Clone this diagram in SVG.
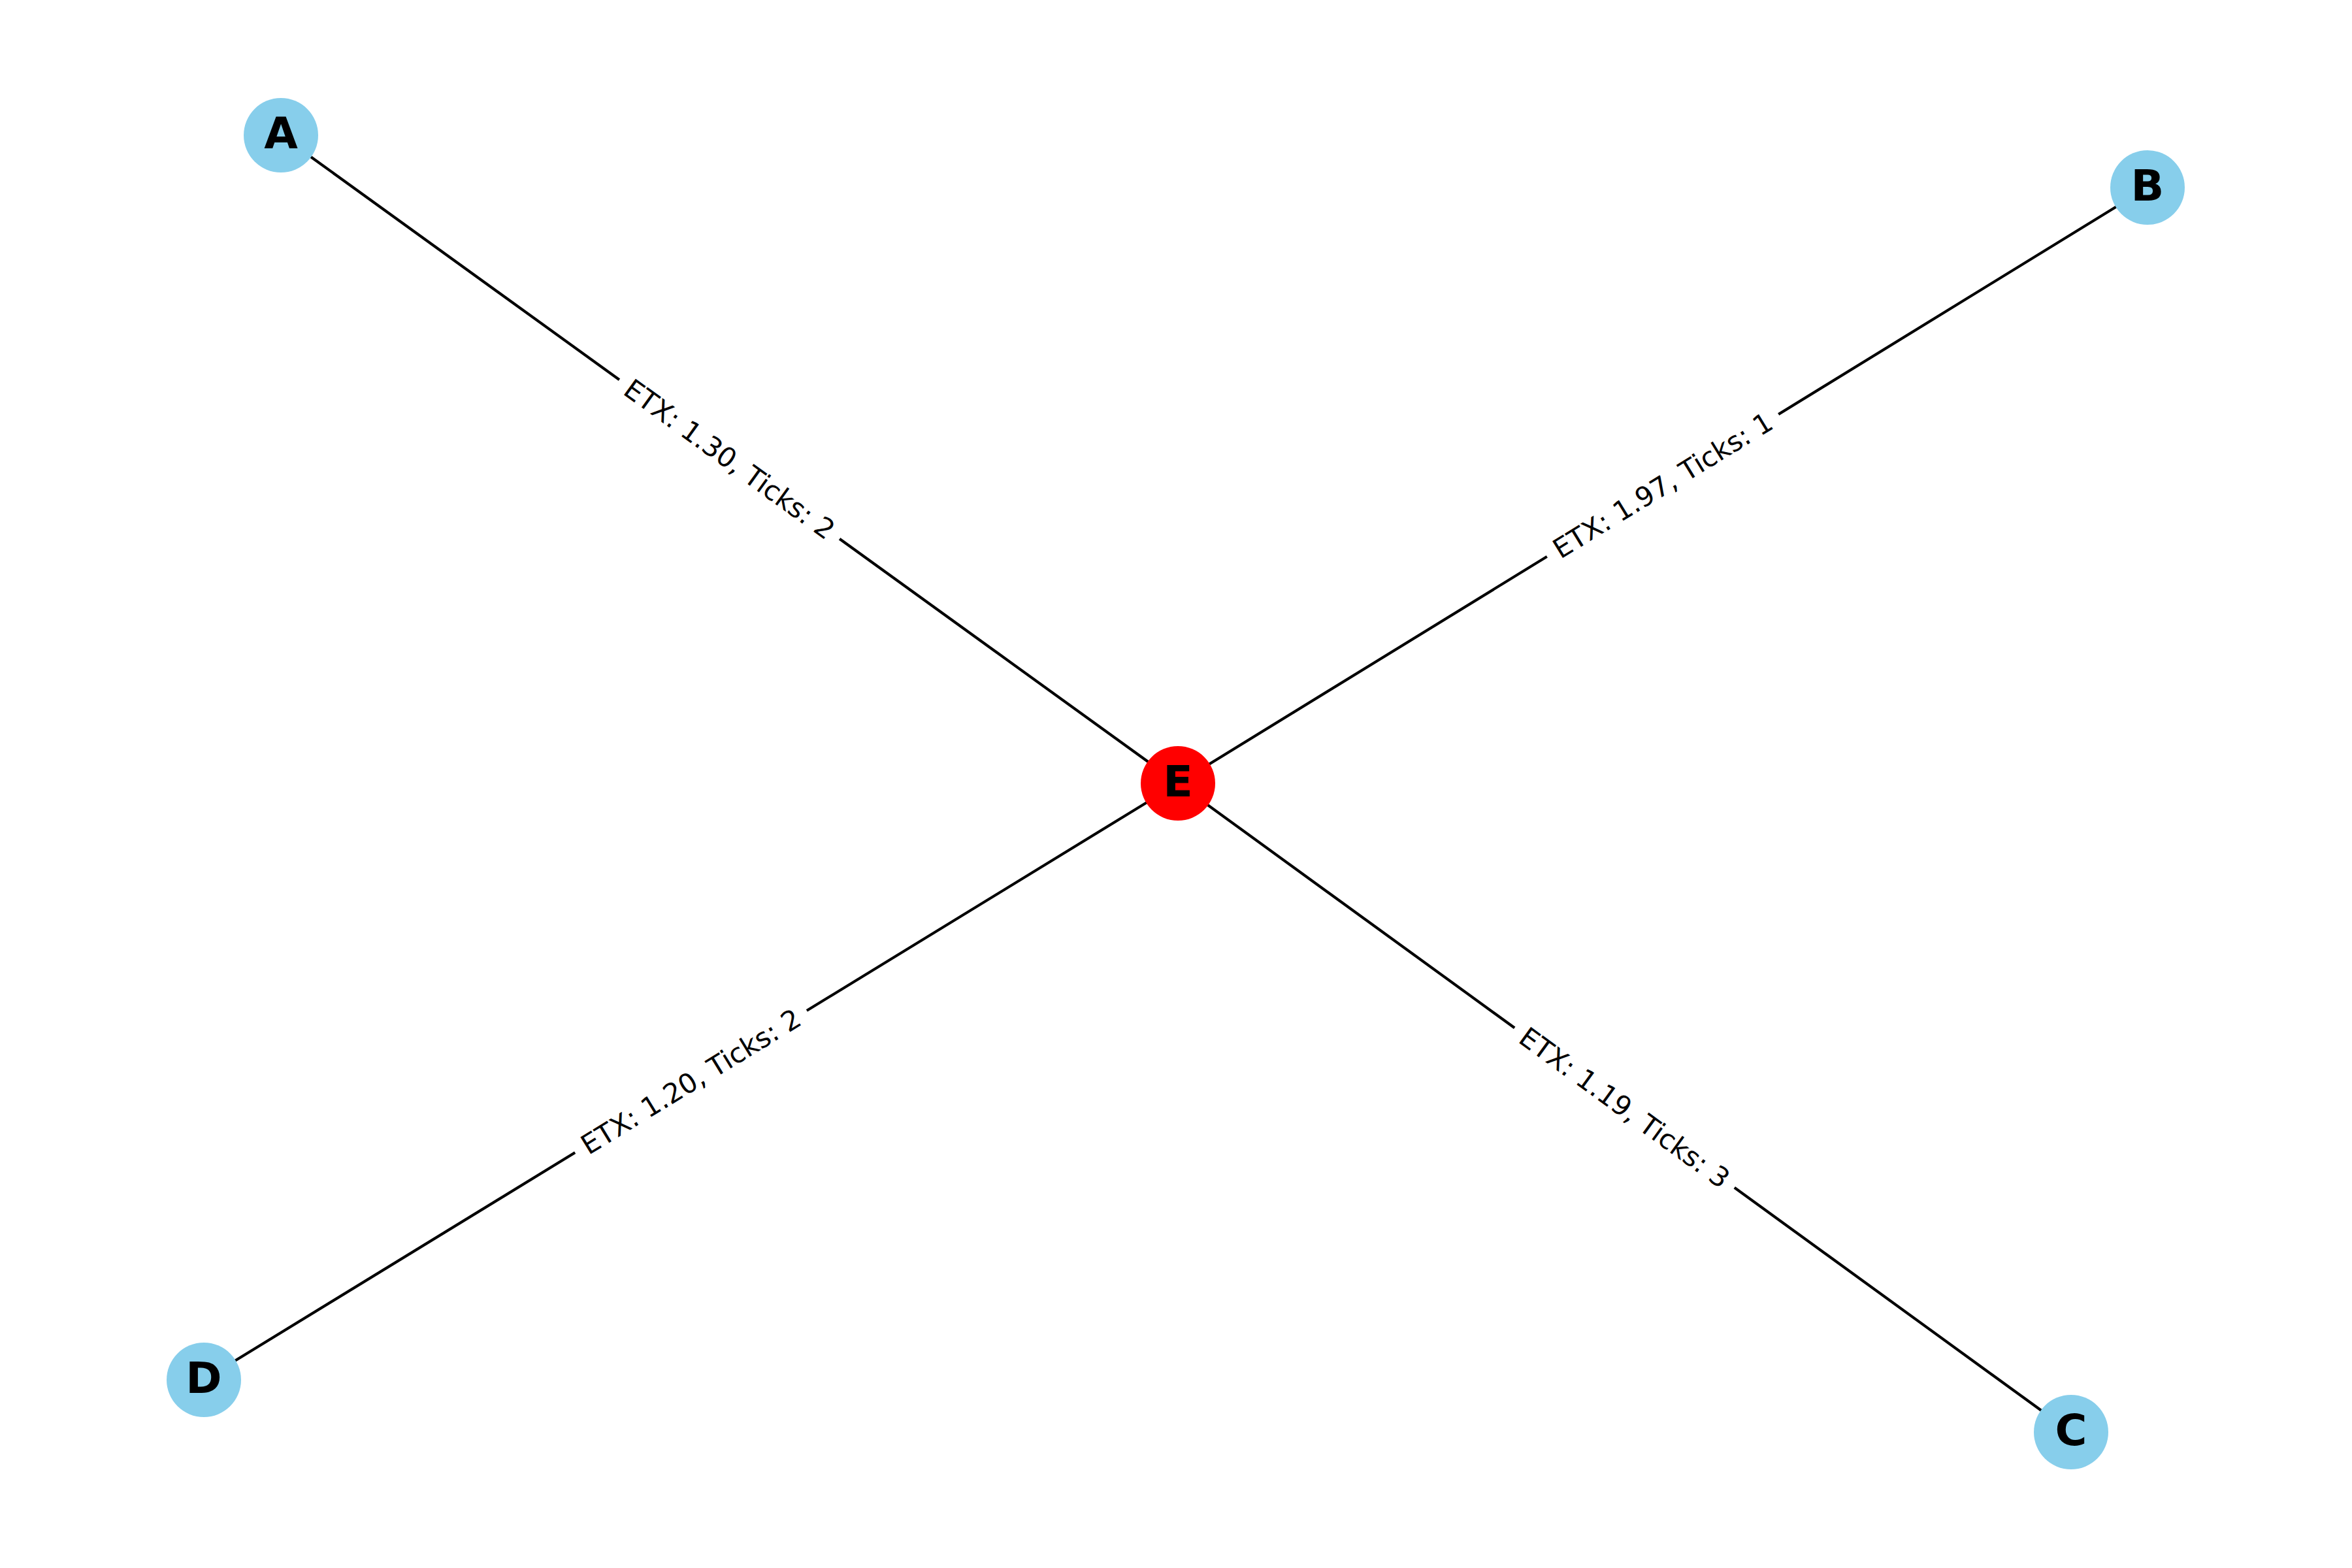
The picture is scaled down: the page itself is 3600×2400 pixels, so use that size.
<svg xmlns="http://www.w3.org/2000/svg" width="3600" height="2400" viewBox="0 0 3600 2400">
<style>
.edge{stroke:#000;stroke-width:4.17;fill:none}
.lbg{fill:#fff}
.lbl{font-family:"DejaVu Sans",sans-serif;font-size:41.7px;fill:#000;text-anchor:middle}
.node circle{stroke:none}
.blue{fill:#87CEEB}
.red{fill:#FF0000}
.ntext{font-family:"DejaVu Sans",sans-serif;font-size:66.7px;font-weight:bold;fill:#000;text-anchor:middle}
</style>
<rect width="3600" height="2400" fill="#fff"/>
<g id="connectors">
<line class="edge" x1="430" y1="207" x2="1803" y2="1199"/>
<line class="edge" x1="1803" y1="1199" x2="3287" y2="287"/>
<line class="edge" x1="1803" y1="1199" x2="3170" y2="2192"/>
<line class="edge" x1="312" y1="2112" x2="1803" y2="1199"/>
<g transform="translate(1116.5,703) rotate(35.85)">
<rect class="lbg" x="-208" y="-28" width="416" height="56" rx="8"/>
<text class="lbl" y="14.5">ETX: 1.30, Ticks: 2</text>
</g>
<g transform="translate(2545,743) rotate(-31.57)">
<rect class="lbg" x="-208" y="-28" width="416" height="56" rx="8"/>
<text class="lbl" y="14.5">ETX: 1.97, Ticks: 1</text>
</g>
<g transform="translate(2486.5,1695.5) rotate(36.0)">
<rect class="lbg" x="-208" y="-28" width="416" height="56" rx="8"/>
<text class="lbl" y="14.5">ETX: 1.19, Ticks: 3</text>
</g>
<g transform="translate(1057.5,1655.5) rotate(-31.48)">
<rect class="lbg" x="-208" y="-28" width="416" height="56" rx="8"/>
<text class="lbl" y="14.5">ETX: 1.20, Ticks: 2</text>
</g>
</g>
<g id="node-A" class="node"><circle class="blue" cx="430" cy="207" r="57"/><text class="ntext" x="430" y="227">A</text></g>
<g id="node-B" class="node"><circle class="blue" cx="3287" cy="287" r="57"/><text class="ntext" x="3287" y="307">B</text></g>
<g id="node-C" class="node"><circle class="blue" cx="3170" cy="2192" r="57"/><text class="ntext" x="3170" y="2212">C</text></g>
<g id="node-D" class="node"><circle class="blue" cx="312" cy="2112" r="57"/><text class="ntext" x="312" y="2132">D</text></g>
<g id="node-E" class="node"><circle class="red" cx="1803" cy="1199" r="57"/><text class="ntext" x="1803" y="1219">E</text></g>
</svg>
